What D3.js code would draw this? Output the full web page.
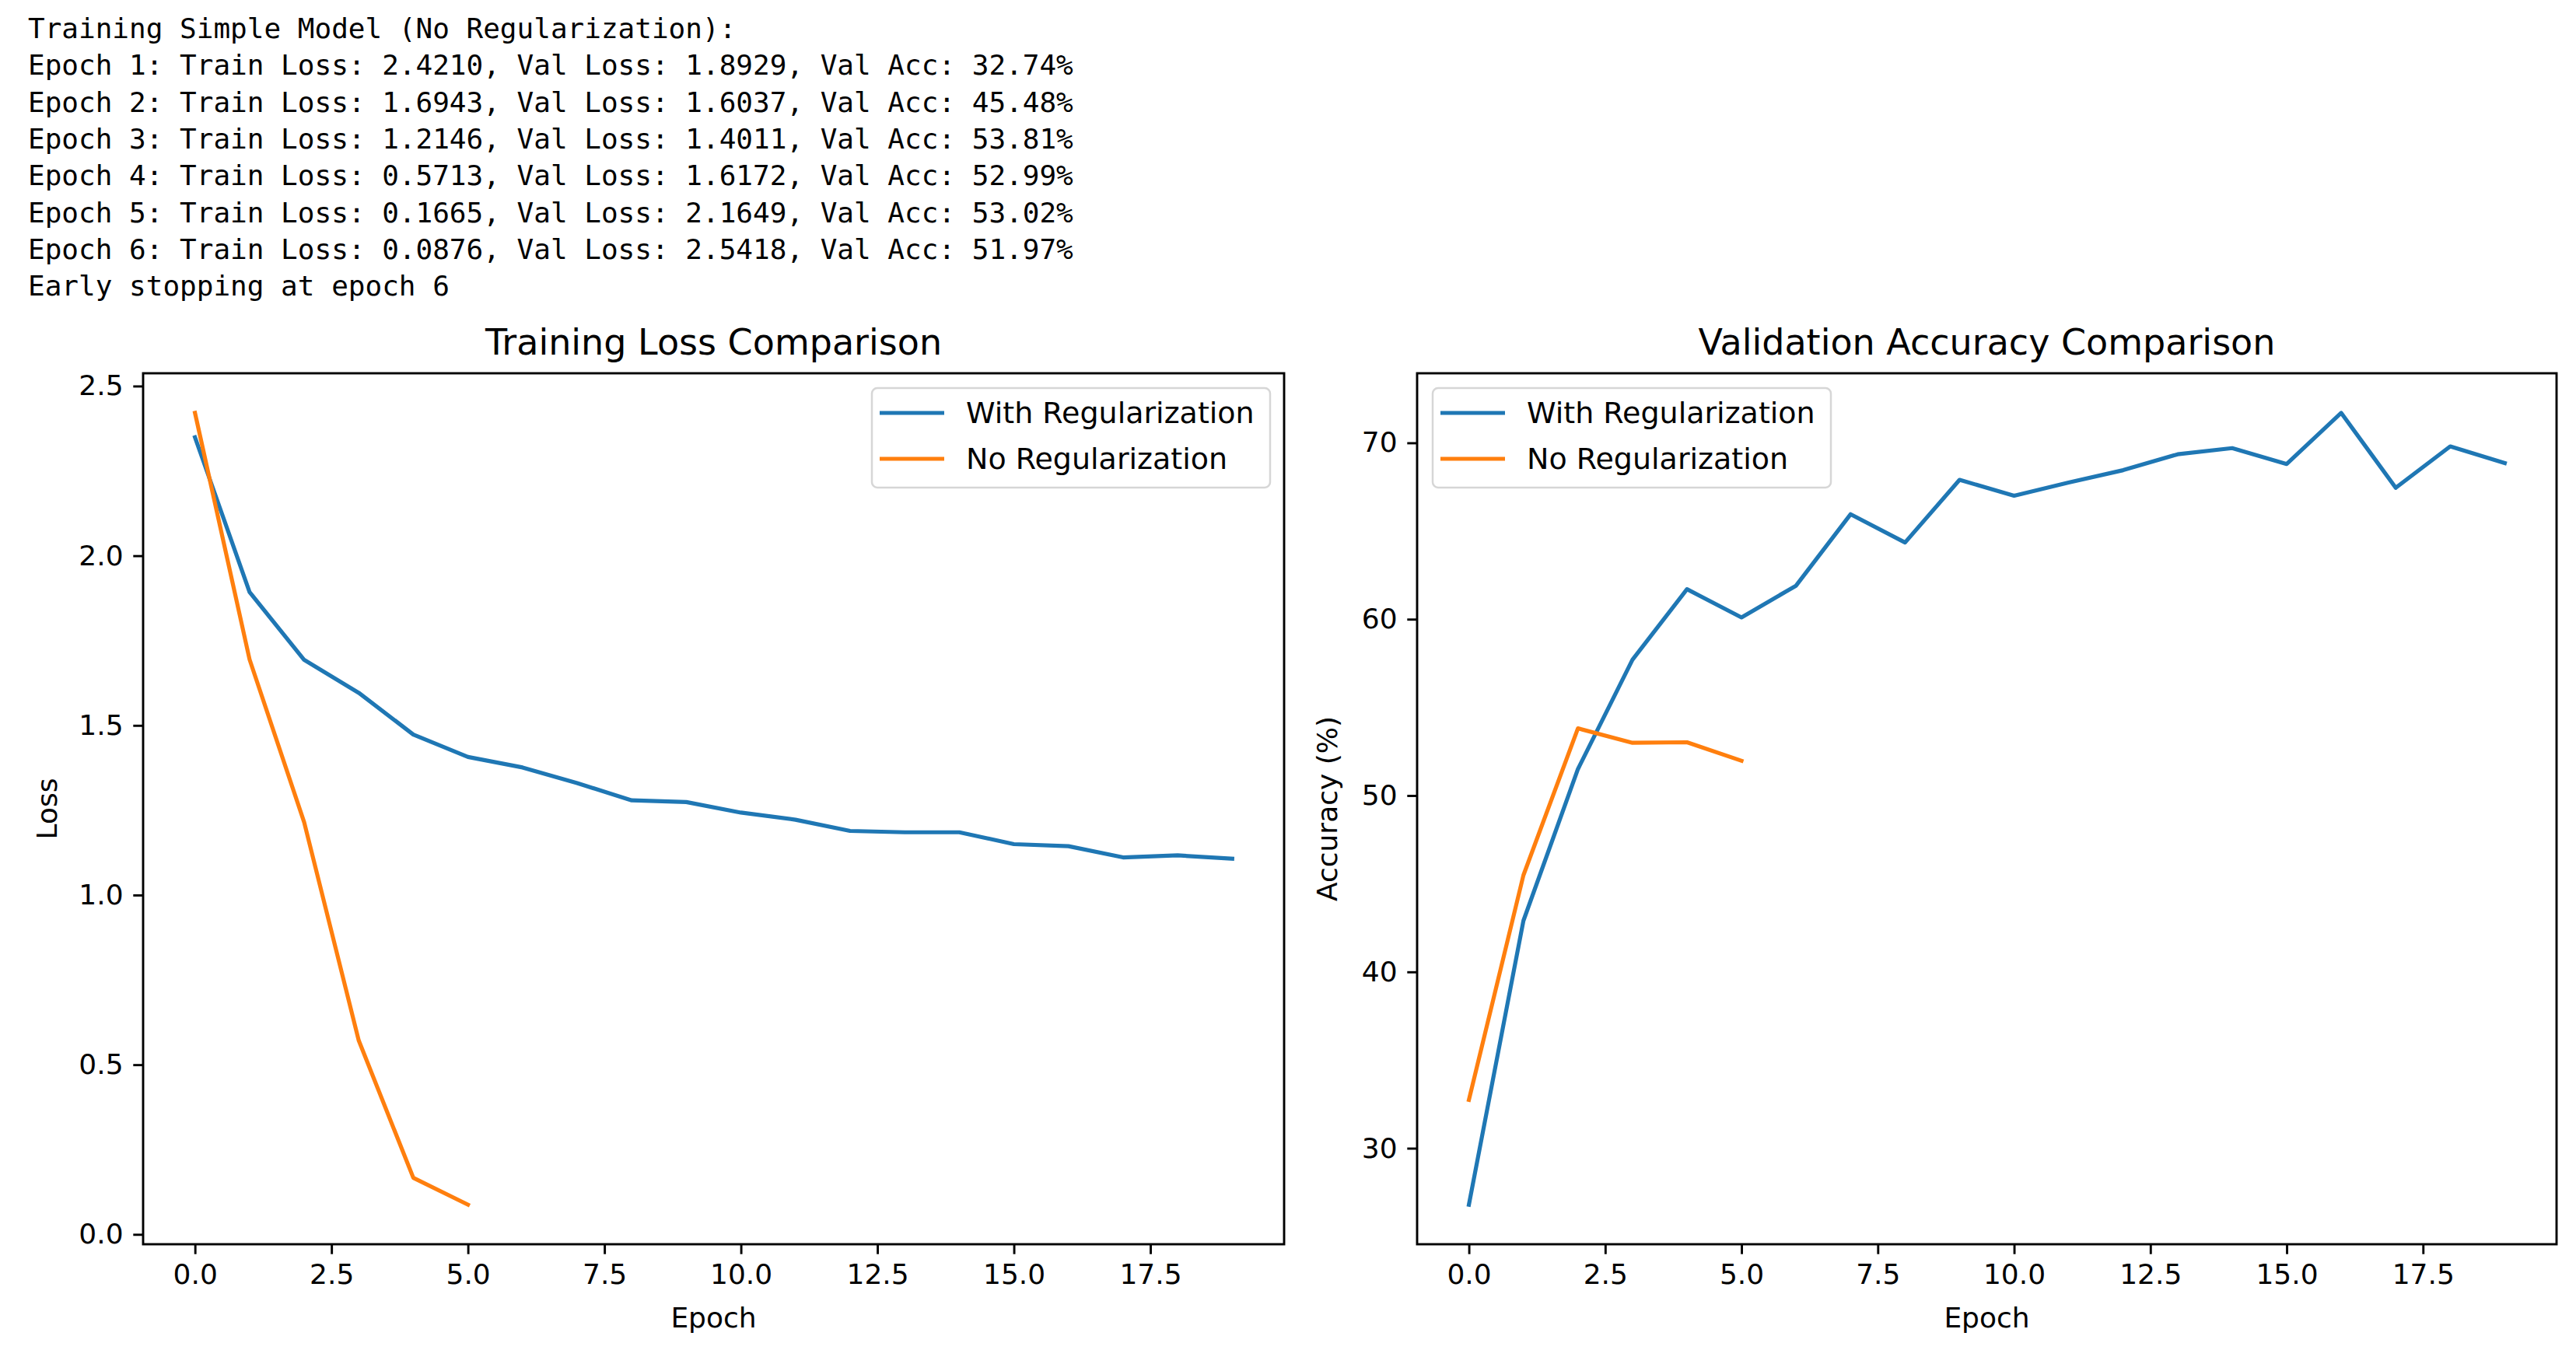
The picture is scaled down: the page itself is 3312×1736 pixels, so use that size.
<!DOCTYPE html>
<html>
<head>
<meta charset="utf-8">
<script src="https://cdn.jsdelivr.net/npm/d3@7"></script>
<style>
  html, body { margin: 0; padding: 0; background: #ffffff; }
  svg { display: block; }
</style>
</head>
<body>
<svg id="chart" width="3312" height="1736"></svg>
<script>
// ---- data ----
const logLines = [
  "Training Simple Model (No Regularization):",
  "Epoch 1: Train Loss: 2.4210, Val Loss: 1.8929, Val Acc: 32.74%",
  "Epoch 2: Train Loss: 1.6943, Val Loss: 1.6037, Val Acc: 45.48%",
  "Epoch 3: Train Loss: 1.2146, Val Loss: 1.4011, Val Acc: 53.81%",
  "Epoch 4: Train Loss: 0.5713, Val Loss: 1.6172, Val Acc: 52.99%",
  "Epoch 5: Train Loss: 0.1665, Val Loss: 2.1649, Val Acc: 53.02%",
  "Epoch 6: Train Loss: 0.0876, Val Loss: 2.5418, Val Acc: 51.97%",
  "Early stopping at epoch 6"
];
const epochsReg = [0,1,2,3,4,5,6,7,8,9,10,11,12,13,14,15,16,17,18,19];
const epochsNo = [0,1,2,3,4,5];
const trainLossReg = [2.349, 1.893, 1.693, 1.596, 1.473, 1.407, 1.376, 1.330, 1.279, 1.274,
                      1.243, 1.222, 1.189, 1.185, 1.185, 1.150, 1.144, 1.111, 1.117, 1.107];
const trainLossNo = [2.4210, 1.6943, 1.2146, 0.5713, 0.1665, 0.0876];
const valAccReg = [26.8, 42.9, 51.5, 57.7, 61.7, 60.1, 61.9, 65.95, 64.35, 67.9,
                   67.0, 67.75, 68.45, 69.35, 69.7, 68.8, 71.7, 67.45, 69.8, 68.85];
const valAccNo = [32.74, 45.48, 53.81, 52.99, 53.02, 51.97];
const seriesNames = ["With Regularization", "No Regularization"];
const seriesColors = ["#1f77b4", "#ff7f0e"];
const xTicks = [0, 2.5, 5, 7.5, 10, 12.5, 15, 17.5];
const lossTicks = [0, 0.5, 1.0, 1.5, 2.0, 2.5];
const accTicks = [30, 40, 50, 60, 70];

// ---- layout ----
const svg = d3.select("#chart");
const FONT = "'DejaVu Sans', sans-serif";
const plotTop = 480, plotBottom = 1600;
const tickLen = 12.7, tickPad = 12.7;
const tickFont = 36, titleFont = 46, legendFont = 38;

// log text
svg.append("g").selectAll("text").data(logLines).join("text")
  .attr("x", 36)
  .attr("y", (d, i) => 49 + i * 47.3)
  .attr("font-family", "'DejaVu Sans Mono', monospace")
  .attr("font-size", 36)
  .attr("fill", "#000")
  .attr("xml:space", "preserve")
  .text(d => d);

function padDomain(vals) {
  const ext = d3.extent(vals);
  const m = (ext[1] - ext[0]) * 0.05;
  return [ext[0] - m, ext[1] + m];
}

function panel(opts) {
  const { left, right, title, ylabel, ylabelX, series, yTicks, yFmt, legendSide } = opts;
  const g = svg.append("g");
  const allX = series.flatMap(s => s.x);
  const allY = series.flatMap(s => s.y);
  const x = d3.scaleLinear().domain(padDomain(allX)).range([left, right]);
  const y = d3.scaleLinear().domain(padDomain(allY)).range([plotBottom, plotTop]);

  const line = d3.line().x(d => x(d[0])).y(d => y(d[1]));
  series.forEach((s, i) => {
    g.append("path")
      .datum(s.x.map((v, k) => [v, s.y[k]]))
      .attr("d", line)
      .attr("fill", "none")
      .attr("stroke", seriesColors[i])
      .attr("stroke-width", 5.2)
      .attr("stroke-linejoin", "round")
      .attr("stroke-linecap", "square");
  });

  const xAxis = d3.axisBottom(x).tickValues(xTicks).tickFormat(d3.format(".1f"))
    .tickSize(tickLen).tickPadding(tickPad).tickSizeOuter(0);
  const gx = g.append("g").attr("transform", `translate(0,${plotBottom})`).call(xAxis);
  const yAxis = d3.axisLeft(y).tickValues(yTicks).tickFormat(yFmt)
    .tickSize(tickLen).tickPadding(tickPad).tickSizeOuter(0);
  const gy = g.append("g").attr("transform", `translate(${left},0)`).call(yAxis);
  [gx, gy].forEach(a => {
    a.select(".domain").remove();
    a.selectAll(".tick line").attr("stroke", "#000").attr("stroke-width", 2.9);
    a.selectAll(".tick text").attr("font-family", FONT).attr("font-size", tickFont).attr("fill", "#000");
  });

  g.append("rect")
    .attr("x", left).attr("y", plotTop)
    .attr("width", right - left).attr("height", plotBottom - plotTop)
    .attr("fill", "none").attr("stroke", "#000").attr("stroke-width", 2.9);

  g.append("text")
    .attr("x", (left + right) / 2).attr("y", 456)
    .attr("text-anchor", "middle")
    .attr("font-family", FONT).attr("font-size", titleFont).attr("fill", "#000")
    .text(title);
  g.append("text")
    .attr("x", (left + right) / 2).attr("y", 1707)
    .attr("text-anchor", "middle")
    .attr("font-family", FONT).attr("font-size", tickFont).attr("fill", "#000")
    .text("Epoch");
  g.append("text")
    .attr("transform", `translate(${ylabelX},${(plotTop + plotBottom) / 2}) rotate(-90)`)
    .attr("text-anchor", "middle")
    .attr("font-family", FONT).attr("font-size", tickFont).attr("fill", "#000")
    .text(ylabel);

  const boxW = 512, boxH = 128;
  const bx = legendSide === "right" ? right - 18 - boxW : left + 20;
  const by = plotTop + 19;
  const lg = g.append("g");
  lg.append("rect")
    .attr("x", bx).attr("y", by).attr("width", boxW).attr("height", boxH)
    .attr("rx", 7).attr("ry", 7)
    .attr("fill", "#ffffff").attr("fill-opacity", 0.8)
    .attr("stroke", "#d6d6d6").attr("stroke-width", 2.5);
  seriesNames.forEach((name, i) => {
    const ly = by + 32 + i * 59;
    lg.append("line")
      .attr("x1", bx + 10).attr("x2", bx + 93)
      .attr("y1", ly).attr("y2", ly)
      .attr("stroke", seriesColors[i]).attr("stroke-width", 5.2);
    lg.append("text")
      .attr("x", bx + 121).attr("y", ly + 13)
      .attr("font-family", FONT).attr("font-size", legendFont).attr("fill", "#000")
      .text(name);
  });
}

panel({
  left: 184, right: 1651,
  title: "Training Loss Comparison",
  ylabel: "Loss", ylabelX: 73,
  series: [{ x: epochsReg, y: trainLossReg }, { x: epochsNo, y: trainLossNo }],
  yTicks: lossTicks, yFmt: d3.format(".1f"),
  legendSide: "right"
});
panel({
  left: 1822, right: 3287,
  title: "Validation Accuracy Comparison",
  ylabel: "Accuracy (%)", ylabelX: 1719,
  series: [{ x: epochsReg, y: valAccReg }, { x: epochsNo, y: valAccNo }],
  yTicks: accTicks, yFmt: d3.format("d"),
  legendSide: "left"
});
</script>
</body>
</html>
